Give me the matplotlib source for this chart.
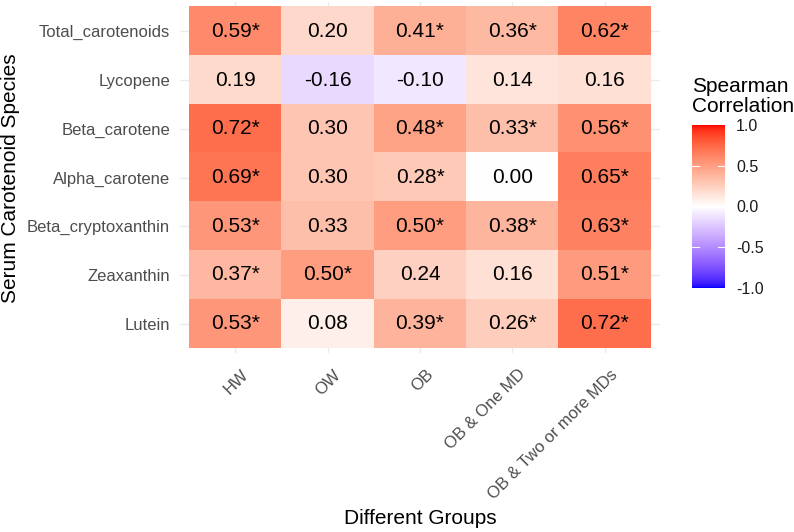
import numpy as np
import matplotlib
matplotlib.use("Agg")
import matplotlib.pyplot as plt
import matplotlib.transforms as mtransforms
from matplotlib.colors import ListedColormap, Normalize
from matplotlib.colorbar import ColorbarBase

plt.rcParams['font.family'] = ['Liberation Sans', 'DejaVu Sans']

species = ["Total_carotenoids", "Lycopene", "Beta_carotene", "Alpha_carotene",
           "Beta_cryptoxanthin", "Zeaxanthin", "Lutein"]
groups = ["HW", "OW", "OB", "OB & One MD", "OB & Two or more MDs"]
values = [
    [0.59, 0.20, 0.41, 0.36, 0.62],
    [0.19, -0.16, -0.10, 0.14, 0.16],
    [0.72, 0.30, 0.48, 0.33, 0.56],
    [0.69, 0.30, 0.28, 0.00, 0.65],
    [0.53, 0.33, 0.50, 0.38, 0.63],
    [0.37, 0.50, 0.24, 0.16, 0.51],
    [0.53, 0.08, 0.39, 0.26, 0.72],
]
significant = [
    [1, 0, 1, 1, 1],
    [0, 0, 0, 0, 0],
    [1, 0, 1, 1, 1],
    [1, 0, 1, 0, 1],
    [1, 0, 1, 1, 1],
    [1, 1, 0, 0, 1],
    [1, 0, 1, 1, 1],
]
legend_ticks = [-1.0, -0.5, 0.0, 0.5, 1.0]

# --- Lab-space gradient (like ggplot2 scale_fill_gradient2) ---
def srgb_to_lab(rgb):
    rgb = np.asarray(rgb, float)
    lin = np.where(rgb <= 0.04045, rgb / 12.92, ((rgb + 0.055) / 1.055) ** 2.4)
    M = np.array([[0.4124564, 0.3575761, 0.1804375],
                  [0.2126729, 0.7151522, 0.0721750],
                  [0.0193339, 0.1191920, 0.9503041]])
    xyz = M @ lin
    wp = np.array([0.95047, 1.0, 1.08883])
    t = xyz / wp
    f = np.where(t > (6/29) ** 3, np.cbrt(t), t / (3 * (6/29) ** 2) + 4/29)
    return np.array([116 * f[1] - 16, 500 * (f[0] - f[1]), 200 * (f[1] - f[2])])

def lab_to_srgb(lab):
    L, a, b = lab
    fy = (L + 16) / 116
    fx = fy + a / 500
    fz = fy - b / 200
    def finv(f):
        return np.where(f > 6/29, f ** 3, 3 * (6/29) ** 2 * (f - 4/29))
    wp = np.array([0.95047, 1.0, 1.08883])
    xyz = np.array([finv(fx), finv(fy), finv(fz)]) * wp
    Minv = np.array([[3.2404542, -1.5371385, -0.4985314],
                     [-0.9692660, 1.8760108, 0.0415560],
                     [0.0556434, -0.2040259, 1.0572252]])
    lin = np.clip(Minv @ xyz, 0, 1)
    rgb = np.where(lin <= 0.0031308, 12.92 * lin, 1.055 * lin ** (1 / 2.4) - 0.055)
    return np.clip(rgb, 0, 1)

lab_low = srgb_to_lab([0, 0, 1])
lab_mid = srgb_to_lab([1, 1, 1])
lab_high = srgb_to_lab([1, 0, 0])
cols = []
for t in np.linspace(0, 1, 512):
    if t < 0.5:
        lab = lab_low + (lab_mid - lab_low) * (t / 0.5)
    else:
        lab = lab_mid + (lab_high - lab_mid) * ((t - 0.5) / 0.5)
    cols.append(lab_to_srgb(lab))
cmap = ListedColormap(cols)
norm = Normalize(-1, 1)

W, H = 794, 532
fig = plt.figure(figsize=(W / 100, H / 100), dpi=100)
ax = fig.add_axes([179.8 / W, 1 - 352.9 / H, (660.2 - 179.8) / W, (352.9 - 2.1) / H])

data = np.array(values)
nr, nc = data.shape
for j in range(nc):
    ax.axvline(j, color='#EBEBEB', lw=1.0, zorder=0)
for i in range(nr):
    ax.axhline(i, color='#EBEBEB', lw=1.0, zorder=0)

ax.imshow(data, cmap=cmap, norm=norm, aspect='auto',
          extent=(-0.5, nc - 0.5, nr - 0.5, -0.5), zorder=1, interpolation='nearest')
for i in range(nr):
    for j in range(nc):
        txt = f"{values[i][j]:.2f}" + ("*" if significant[i][j] else "")
        ax.text(j, i, txt, ha='center', va='center', fontsize=15, color='black', zorder=2)

ax.set_xlim(-0.6, nc - 0.4)
ax.set_ylim(nr - 0.4, -0.6)
ax.set_xticks(range(nc))
ax.set_yticks(range(nr))
ax.set_yticklabels(species, fontsize=12, color='#4D4D4D')
ax.set_xticklabels(groups, fontsize=12, color='#4D4D4D', rotation=45,
                   ha='right', va='top', rotation_mode='anchor')
ax.tick_params(axis='y', length=0, pad=7)
ax.tick_params(axis='x', length=0, pad=10)
off = mtransforms.ScaledTranslation(4 / 72, 0, fig.dpi_scale_trans)
for lab in ax.get_xticklabels():
    lab.set_transform(lab.get_transform() + off)
for s in ax.spines.values():
    s.set_visible(False)

fig.text(420 / W, 1 - 519 / H, "Different Groups", fontsize=15, ha='center', va='center')
fig.text(11 / W, 1 - 178 / H, "Serum Carotenoid Species", fontsize=15, ha='center',
         va='center', rotation=90)

cax = fig.add_axes([692 / W, 1 - 288 / H, 33 / W, 163 / H])
cb = ColorbarBase(cax, cmap=cmap, norm=norm, ticks=legend_ticks)
cb.outline.set_visible(False)
cb.set_ticklabels([f"{v:.1f}" for v in legend_ticks])
cax.tick_params(length=0, labelsize=11.5, colors='#1A1A1A', pad=8)
for t in legend_ticks[1:-1]:
    cax.plot([0, 0.2], [t, t], color='white', lw=0.8)
    cax.plot([0.8, 1.0], [t, t], color='white', lw=0.8)
fig.text(692 / W, 1 - 92 / H, "Spearman", fontsize=15, ha='left', va='baseline')
fig.text(692 / W, 1 - 112 / H, "Correlation", fontsize=15, ha='left', va='baseline')

fig.savefig("out.png", dpi=100)
